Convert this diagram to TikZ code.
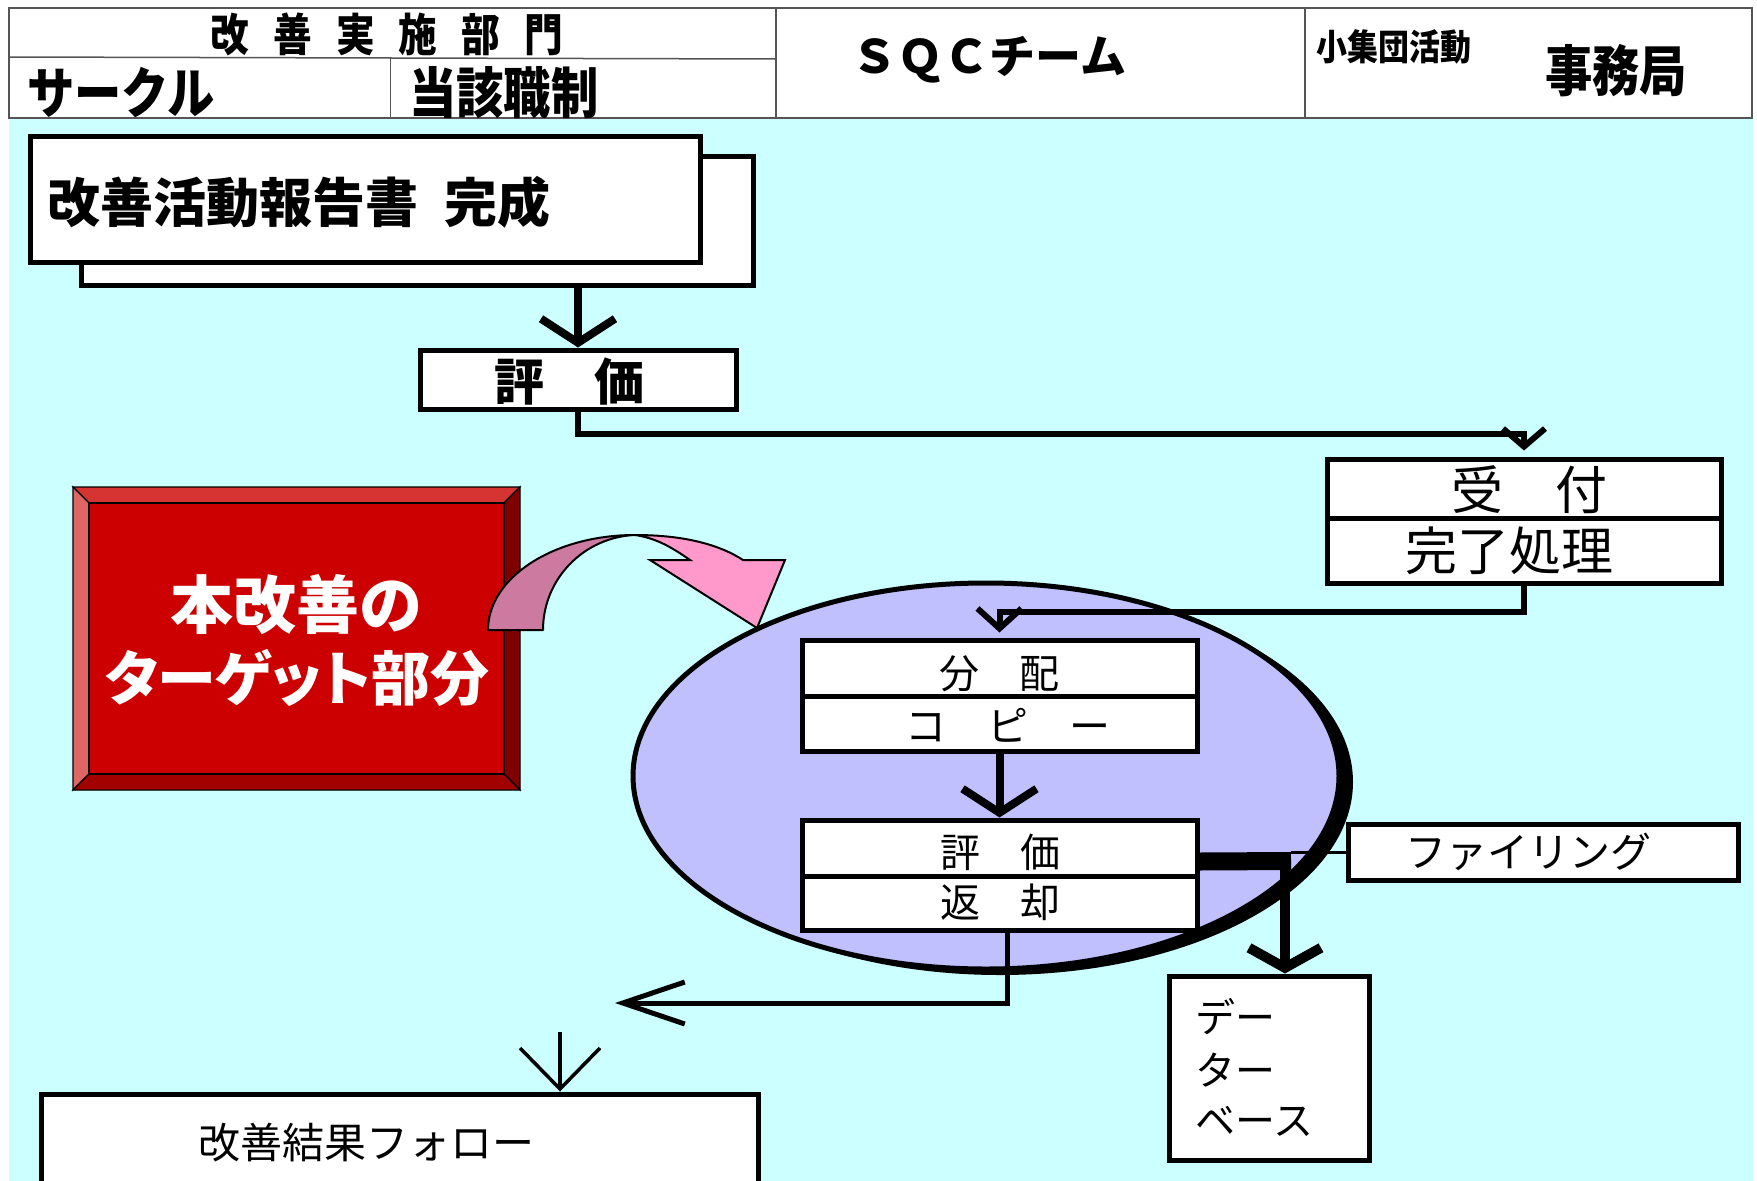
\documentclass[tikz,border=0pt]{standalone}
\usepackage{fontspec}
\newfontfamily\jp{Noto Sans CJK JP}
\newfontfamily\jpc[FakeStretch=0.86]{Noto Sans CJK JP}
\newfontfamily\jpp[RawFeature=+palt]{Noto Sans CJK JP}
\usetikzlibrary{arrows.meta,shapes.geometric,calc}
\newcommand\fjr[1]{\jp\fontsize{#1}{#1}\selectfont}
\newcommand\fjb[1]{\jp\bfseries\fontsize{#1}{#1}\selectfont}
\newcommand\fjc[1]{\jpc\bfseries\fontsize{#1}{#1}\selectfont}
\newcommand\fjp[1]{\jpp\bfseries\fontsize{#1}{#1}\selectfont}
\definecolor{bgcyan}{HTML}{CCFFFF}
\definecolor{ellfill}{HTML}{C0C0FF}
\definecolor{redface}{HTML}{CC0000}
\definecolor{redtop}{HTML}{D63333}
\definecolor{redleft}{HTML}{E06666}
\definecolor{redright}{HTML}{800000}
\definecolor{redbot}{HTML}{A30000}
\definecolor{pinklight}{HTML}{FF99CC}
\definecolor{pinkdark}{HTML}{CC7AA0}
\definecolor{hdrline}{HTML}{555555}
\tikzset{
  th/.code={\pgfmathsetmacro\thH{0.88*#1}\pgfmathsetmacro\thD{0.12*#1}%
    \edef\thTmp{\noexpand\tikzset{text height=\thH pt,text depth=\thD pt}}\thTmp},
  txt/.style={inner sep=0pt},
  box/.style={draw=black, fill=white, line width=5pt, inner sep=0pt},
  hdr/.style={draw=hdrline, line width=1.5pt},
  bevel/.style={draw=black, line width=1.2pt},
}
\begin{document}
\begin{tikzpicture}[x=1pt,y=-1pt]
\useasboundingbox (0,0) rectangle (1757,1181);
\fill[white] (0,0) rectangle (1757,1181);
\fill[bgcyan] (9,118) rectangle (1753,1181);

% ---------- header table ----------
\draw[hdr] (9,8) rectangle (1752,118);
\draw[hdr] (9,57) -- (776,59);
\draw[hdr] (776,8) -- (776,118);
\draw[hdr] (1305,8) -- (1305,118);
\draw[hdr, line width=1pt] (390,58) -- (390,118);
\node[txt, font=\fjc{45}, th=45] (h1) at (387,34)
  {改\hspace{24pt}善\hspace{24pt}実\hspace{24pt}施\hspace{24pt}部\hspace{24pt}門};
\node[txt, anchor=west, font=\fjc{55}, th=55] (h2) at (27,93) {サークル};
\node[txt, anchor=west, font=\fjc{55}, th=55] (h3) at (409,93) {当該職制};
\node[txt, font=\fjb{46}, th=46] (h4) at (989,56) {ＳＱＣチーム};
\node[txt, anchor=west, font=\fjc{36}, th=36] (h5) at (1316,47) {小集団活動};
\node[txt, anchor=west, font=\fjc{55}, th=55] (h6) at (1545,71) {事務局};

% ---------- report ----------
\node[box, minimum width=672, minimum height=129] (rs) at (417,220.5) {};
\node[box, minimum width=670, minimum height=126] (rf) at (365,199) {};
\node[txt, anchor=west, font=\fjb{53}, th=53] (rft) at (47,202) {改善活動報告書\hspace{26pt}完成};

\node[box, minimum width=316, minimum height=59] (hy1) at (578,379.5) {};
\node[txt, font=\fjb{50}, th=50] (hy1t) at (569,381) {評　価};

% ---------- receipt ----------
\node[box, minimum width=394, minimum height=59] (uke) at (1524,488.5) {};
\node[box, minimum width=394, minimum height=65] (kan) at (1524,550.5) {};
\node[txt, font=\fjr{52}, th=52] (uket) at (1529,490) {受　付};
\node[txt, font=\fjr{52}, th=52] (kant) at (1509,551) {完了処理};

% ---------- red target box ----------
\filldraw[bevel, fill=redtop] (73,487) -- (520,487) -- (504,503) -- (89,503) -- cycle;
\filldraw[bevel, fill=redleft] (73,487) -- (89,503) -- (89,774) -- (73,790) -- cycle;
\filldraw[bevel, fill=redright] (520,487) -- (520,790) -- (504,774) -- (504,503) -- cycle;
\filldraw[bevel, fill=redbot] (73,790) -- (89,774) -- (504,774) -- (520,790) -- cycle;
\node[draw=black, line width=1.2pt, fill=redface, minimum width=415, minimum height=271, inner sep=0pt] (tgt) at (296.5,638.5) {};
\node[txt, font=\fjb{63}, th=63, text=white] (tgt1) at (296,605) {本改善の};
\node[txt, font=\fjp{59}, th=59, text=white] (tgt2) at (297,678) {ターゲット部分};

% ---------- pink curved arrow ----------
\filldraw[fill=pinkdark, draw=black, line width=2pt, line join=round]
  (488,630) .. controls (488,577.5) and (553.8,535) .. (635,535)
  .. controls (584.2,537) and (543,578.6) .. (543,630) -- cycle;
\filldraw[fill=pinklight, draw=black, line width=2pt, line join=miter]
  (635,535) .. controls (685,535) and (720,545) .. (743,560)
  -- (785,560) -- (757,628) -- (650,560) -- (690,560)
  .. controls (670,546) and (655,538) .. (635,535) -- cycle;

% ---------- ellipse ----------
\fill[black] (1000,782) ellipse [x radius=353, y radius=193];
\node[ellipse, draw=black, fill=ellfill, line width=5pt, minimum width=706, minimum height=386, inner sep=0pt] (ell) at (986,776) {};

\node[box, minimum width=395, minimum height=56] (bun) at (999.5,668) {};
\node[box, minimum width=395, minimum height=55] (cop) at (999.5,723.5) {};
\node[box, minimum width=395, minimum height=56] (hy2) at (999.5,848) {};
\node[box, minimum width=395, minimum height=54] (hen) at (999.5,903) {};
\node[txt, font=\fjr{40}, th=40] (bunt) at (999,673) {分　配};
\node[txt, font=\fjr{41}, th=41] (copt) at (1008,726) {コ　ピ　ー};
\node[txt, font=\fjr{40}, th=40] (hy2t) at (1000,852) {評　価};
\node[txt, font=\fjr{40}, th=40] (hent) at (1000,902) {返　却};

% ---------- filing / database / follow ----------
\node[box, minimum width=390, minimum height=56] (fil) at (1543,852) {};
\node[txt, font=\fjr{41}, th=41] (filt) at (1528,852) {ファイリング};
\node[box, minimum width=200, minimum height=184] (db) at (1269,1068) {};
\node[txt, anchor=west, font=\fjr{40}, th=40] (db1) at (1195,1017) {デー};
\node[txt, anchor=west, font=\fjr{40}, th=40] (db2) at (1195,1070) {ター};
\node[txt, anchor=west, font=\fjr{40}, th=40] (db3) at (1195,1120) {ベース};
\node[box, minimum width=717, minimum height=96] (fol) at (399.5,1142) {};
\node[txt, font=\fjr{42}, th=42] (folt) at (366,1143) {改善結果フォロー};

% ---------- connectors ----------
\draw[line width=8pt, -{Straight Barb[length=24pt,width=74pt]}] (hy1.north |- rs.south) -- (hy1.north);
\draw[line width=6pt, -{Straight Barb[length=18pt,width=42pt]}, shorten >=6pt]
  (hy1.south) -- ++(0,22) -| (uke.north);
\draw[line width=6pt, -{Straight Barb[length=20pt,width=44pt]}, shorten >=5pt]
  (kan.south) -- ++(0,26) -| (bun.north);
\draw[line width=8pt, -{Straight Barb[length=24pt,width=74pt]}] (cop.south) -- (hy2.north);

\coordinate (jn) at (1285,861);
\coordinate (jr) at (1291,861);
\draw[line width=18pt] ($(hy2.south east)+(0,-17)$) -- (jr);
\draw[line width=3pt] (fil.west -| jr) -- (fil.west);
\draw[line width=10pt, -{Straight Barb[length=20pt,width=72pt]}] (jn) -- (jn |- db.north);

\coordinate (rend) at (615,1003);
\draw[line width=5pt, -{Straight Barb[length=62pt,width=42pt]}] ($(hen.south)+(8,0)$) |- (rend);

\coordinate (fa) at (560,1032);
\draw[line width=3.5pt, -{Straight Barb[length=41pt,width=80pt]}] (fa) -- (fa |- fol.north);
\end{tikzpicture}
\end{document}
